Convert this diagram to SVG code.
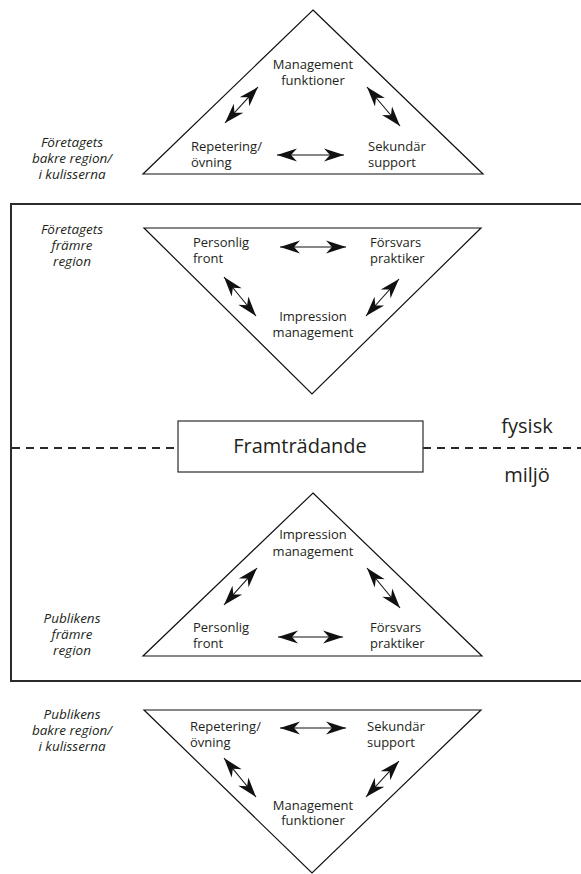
<svg xmlns="http://www.w3.org/2000/svg" width="581" height="874" viewBox="0 0 581 874">
<defs>
<style>
.tri{fill:none;stroke:#111;stroke-width:1.2;stroke-linejoin:miter}
.t{font-family:"Open Sans","Noto Sans","Liberation Sans",sans-serif;font-size:13px;fill:#231f20}
.m{text-anchor:middle}
.i{font-style:italic;text-anchor:middle;font-size:13.5px}
.big{font-family:"Open Sans","Noto Sans","Liberation Sans",sans-serif;font-size:20px;fill:#231f20}
.arr{stroke:#111;stroke-width:1.1;fill:none;marker-start:url(#ah);marker-end:url(#ah)}
</style>
<marker id="ah" viewBox="-22 -8 24 16" refX="0" refY="0" markerWidth="24" markerHeight="16" markerUnits="userSpaceOnUse" orient="auto-start-reverse">
<path d="M0,0 L-20,-6.5 L-14,0 L-20,6.5 Z" fill="#111"/>
</marker>
</defs>

<g id="frame">
<rect x="11" y="204" width="590" height="477" fill="none" stroke="#2b2b2b" stroke-width="2"/>
</g>

<g id="connectors">
<line x1="12" y1="448" x2="178" y2="448" stroke="#2b2b2b" stroke-width="2" stroke-dasharray="8 6"/>
<line x1="423" y1="448" x2="581" y2="448" stroke="#2b2b2b" stroke-width="2" stroke-dasharray="8 6"/>
<line class="arr" x1="277" y1="155" x2="344" y2="155"/>
<line class="arr" x1="225" y1="123" x2="258" y2="87"/>
<line class="arr" x1="367" y1="87" x2="400" y2="126"/>
<line class="arr" x1="280" y1="247" x2="346" y2="247"/>
<line class="arr" x1="224" y1="277" x2="256" y2="316"/>
<line class="arr" x1="399" y1="279" x2="366" y2="316"/>
<line class="arr" x1="278" y1="637" x2="343" y2="637"/>
<line class="arr" x1="224" y1="605" x2="257" y2="568"/>
<line class="arr" x1="367" y1="568" x2="400" y2="608"/>
<line class="arr" x1="280" y1="728" x2="346" y2="728"/>
<line class="arr" x1="224" y1="758" x2="256" y2="797"/>
<line class="arr" x1="399" y1="761" x2="366" y2="797"/>
</g>

<g id="tri-foretag-bakre">
<polygon class="tri" points="313,10 483,174 143,174"/>
<text class="t m" x="313" y="69">Management</text>
<text class="t m" x="313" y="85">funktioner</text>
<text class="t" x="191" y="151">Repetering/</text>
<text class="t" x="191" y="167">övning</text>
<text class="t" x="368" y="151">Sekundär</text>
<text class="t" x="368" y="167">support</text>
</g>

<g id="label-foretag-bakre">
<text class="t i" x="72" y="147">Företagets</text>
<text class="t i" x="72" y="163">bakre region/</text>
<text class="t i" x="72" y="179">i kulisserna</text>
</g>

<g id="tri-foretag-framre">
<polygon class="tri" points="144,228 481,228 312,394"/>
<text class="t" x="193" y="247">Personlig</text>
<text class="t" x="193" y="263">front</text>
<text class="t" x="370" y="247">Försvars</text>
<text class="t" x="370" y="263">praktiker</text>
<text class="t m" x="313" y="321">Impression</text>
<text class="t m" x="313" y="337">management</text>
</g>

<g id="label-foretag-framre">
<text class="t i" x="72" y="234">Företagets</text>
<text class="t i" x="72" y="250">främre</text>
<text class="t i" x="72" y="266">region</text>
</g>

<g id="framtradande">
<rect x="178" y="421" width="245" height="51" fill="#fff" stroke="#2b2b2b" stroke-width="1.2"/>
<text class="big m" x="300" y="453">Framträdande</text>
</g>

<g id="fysisk-miljo">
<text class="big m" x="527" y="433">fysisk</text>
<text class="big m" x="527" y="482">miljö</text>
</g>

<g id="tri-publik-framre">
<polygon class="tri" points="313,493 482,656 143,656"/>
<text class="t m" x="313" y="539">Impression</text>
<text class="t m" x="313" y="556">management</text>
<text class="t" x="193" y="632">Personlig</text>
<text class="t" x="193" y="648">front</text>
<text class="t" x="370" y="632">Försvars</text>
<text class="t" x="370" y="648">praktiker</text>
</g>

<g id="label-publik-framre">
<text class="t i" x="72" y="623">Publikens</text>
<text class="t i" x="72" y="639">främre</text>
<text class="t i" x="72" y="655">region</text>
</g>

<g id="tri-publik-bakre">
<polygon class="tri" points="144,710 481,710 312,873"/>
<text class="t" x="190" y="731">Repetering/</text>
<text class="t" x="190" y="747">övning</text>
<text class="t" x="367" y="731">Sekundär</text>
<text class="t" x="367" y="747">support</text>
<text class="t m" x="313" y="810">Management</text>
<text class="t m" x="313" y="825">funktioner</text>
</g>

<g id="label-publik-bakre">
<text class="t i" x="72" y="719">Publikens</text>
<text class="t i" x="72" y="735">bakre region/</text>
<text class="t i" x="72" y="751">i kulisserna</text>
</g>
</svg>
